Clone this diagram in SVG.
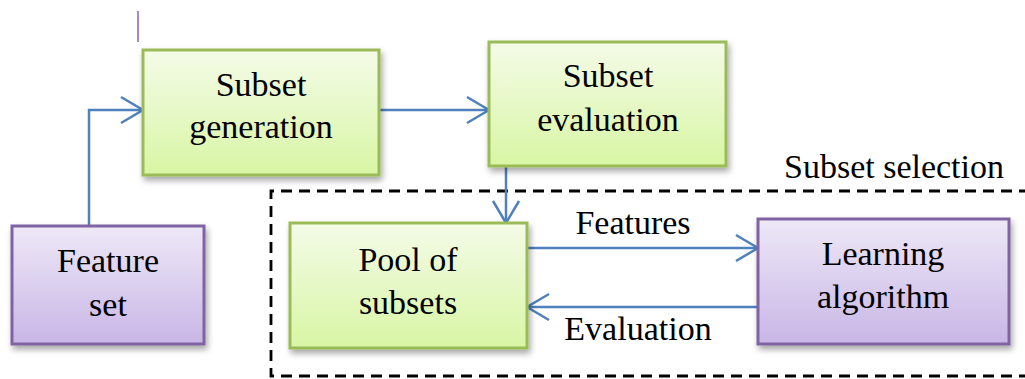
<svg xmlns="http://www.w3.org/2000/svg" width="1025" height="379" viewBox="0 0 1025 379" font-family="Liberation Serif, DejaVu Serif, serif">
  <style>
    .lbl { font-size: 34px; fill: #000; text-anchor: middle; }
    .green { fill: url(#gGreen); stroke: #9bbb59; stroke-width: 3; filter: url(#shadow); }
    .purple { fill: url(#gPurple); stroke: #8064a2; stroke-width: 3; filter: url(#shadow); }
    .conn { fill: none; stroke: #4f81bd; stroke-width: 2.5; }
  </style>
  <defs>
    <linearGradient id="gGreen" x1="0" y1="0" x2="0" y2="1">
      <stop offset="0" stop-color="#f4fbe8"/>
      <stop offset="1" stop-color="#d8f6a4"/>
    </linearGradient>
    <linearGradient id="gPurple" x1="0" y1="0" x2="0" y2="1">
      <stop offset="0" stop-color="#eee8f7"/>
      <stop offset="1" stop-color="#c8b6e6"/>
    </linearGradient>
    <filter id="shadow" x="-10%" y="-10%" width="125%" height="130%">
      <feGaussianBlur in="SourceAlpha" stdDeviation="3"/>
      <feOffset dx="2" dy="4" result="b"/>
      <feComponentTransfer><feFuncA type="linear" slope="0.35"/></feComponentTransfer>
      <feMerge><feMergeNode/><feMergeNode in="SourceGraphic"/></feMerge>
    </filter>
    <marker id="open" viewBox="0 0 26 30" refX="24" refY="15" markerWidth="26" markerHeight="30" markerUnits="userSpaceOnUse" orient="auto">
      <path d="M2,2 L24,15 L2,28" fill="none" stroke="#4f81bd" stroke-width="2.5"/>
    </marker>
  </defs>

  <rect width="1025" height="379" fill="#fff"/>

  <!-- stray vertical rule near the top -->
  <line x1="138" y1="11" x2="138" y2="42" stroke="#a48cc0" stroke-width="2"/>

  <!-- subset selection frame -->
  <g id="selection-frame">
    <path d="M1030,191 L271,191 L271,376 L1030,376" fill="none" stroke="#000" stroke-width="2.8" stroke-dasharray="11,7"/>
    <text class="lbl" font-family="Liberation Serif, serif" x="894" y="178">Subset selection</text>
  </g>

  <g id="connectors">
    <path class="conn" d="M89,226 L89,110 L143,110" marker-end="url(#open)"/>
    <path class="conn" d="M379,110 L489,110" marker-end="url(#open)"/>
    <path class="conn" d="M506,166 L506,223" marker-end="url(#open)"/>
    <path class="conn" d="M527,248 L758,248" marker-end="url(#open)"/>
    <path class="conn" d="M758,307 L527,307" marker-end="url(#open)"/>
    <text class="lbl" font-family="Liberation Serif, serif" x="633" y="234">Features</text>
    <text class="lbl" font-family="Liberation Serif, serif" x="638" y="340">Evaluation</text>
  </g>

  <g id="subset-generation" font-family="Liberation Serif, serif">
    <rect class="green" x="143" y="50" width="236" height="125"/>
    <text class="lbl" x="261" y="96">Subset</text>
    <text class="lbl" x="261" y="138">generation</text>
  </g>

  <g id="subset-evaluation" font-family="Liberation Serif, serif">
    <rect class="green" x="489" y="42" width="237" height="124"/>
    <text class="lbl" x="608" y="87">Subset</text>
    <text class="lbl" x="608" y="131">evaluation</text>
  </g>

  <g id="feature-set" font-family="Liberation Serif, serif">
    <rect class="purple" x="12" y="226" width="192" height="118"/>
    <text class="lbl" x="108" y="272">Feature</text>
    <text class="lbl" x="108" y="316">set</text>
  </g>

  <g id="pool-of-subsets" font-family="Liberation Serif, serif">
    <rect class="green" x="290" y="223" width="237" height="125"/>
    <text class="lbl" x="408" y="271">Pool of</text>
    <text class="lbl" x="408" y="314">subsets</text>
  </g>

  <g id="learning-algorithm" font-family="Liberation Serif, serif">
    <rect class="purple" x="758" y="219" width="251" height="125"/>
    <text class="lbl" x="883" y="265">Learning</text>
    <text class="lbl" x="883" y="308">algorithm</text>
  </g>
</svg>
